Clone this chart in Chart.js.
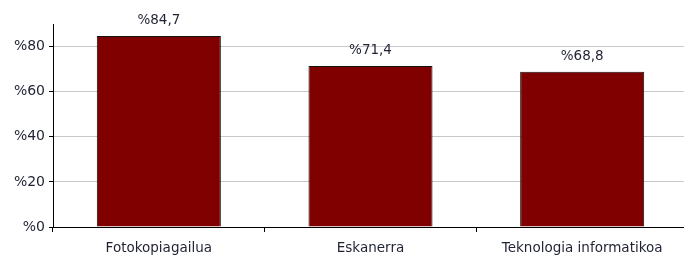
<!DOCTYPE html>
<html>
<head>
<meta charset="utf-8">
<script src="https://cdn.jsdelivr.net/npm/chart.js@4/dist/chart.umd.min.js"></script>
<style>
  html, body { margin: 0; padding: 0; background: #fff; overflow: hidden; }
  #wrap { position: relative; width: 688px; height: 255px; }
</style>
</head>
<body>
<div id="wrap"><canvas id="c"></canvas></div>
<script>
const categories = ["Fotokopiagailua", "Eskanerra", "Teknologia informatikoa"];
const values = [84.7, 71.4, 68.8];
const valueLabels = ["%84,7", "%71,4", "%68,8"];
const yTickValues = [0, 20, 40, 60, 80];

const FONT = "'DejaVu Sans', Verdana, sans-serif";

const valueLabelPlugin = {
  id: 'valueLabels',
  afterDatasetsDraw(chart) {
    const ctx = chart.ctx;
    const meta = chart.getDatasetMeta(0);
    ctx.save();
    ctx.font = "13.5px " + FONT;
    ctx.fillStyle = "#1f2233";
    ctx.textAlign = "center";
    ctx.textBaseline = "middle";
    meta.data.forEach((bar, i) => {
      ctx.fillText(valueLabels[i], bar.x, bar.y - 15);
    });
    ctx.restore();
  }
};

new Chart(document.getElementById('c'), {
  type: 'bar',
  data: {
    labels: categories,
    datasets: [{
      data: values,
      backgroundColor: '#800000',
      borderColor: '#111111',
      borderWidth: 1,
      categoryPercentage: 1,
      barPercentage: 0.586
    }]
  },
  options: {
    responsive: true,
    maintainAspectRatio: false,
    animation: false,
    devicePixelRatio: 1,
    layout: { padding: { top: 24, left: 0, right: 0, bottom: 0 } },
    plugins: { legend: { display: false }, tooltip: { enabled: false } },
    scales: {
      x: {
        offset: true,
        grid: { display: true, drawOnChartArea: false, drawTicks: true, tickLength: 5, color: '#000', offset: true },
        border: { display: true, color: '#000', width: 1 },
        ticks: { font: { family: FONT, size: 13.5 }, color: '#1f2233', padding: 8, maxRotation: 0, autoSkip: false },
        afterFit(scale) { scale.height = 28; }
      },
      y: {
        min: 0,
        max: 90,
        grid: { color: '#c8c8c8', lineWidth: 1, drawTicks: true, tickLength: 4, tickColor: '#000' },
        border: { display: true, color: '#000', width: 1 },
        ticks: {
          stepSize: 20,
          font: { family: FONT, size: 14 },
          color: '#1f2233',
          padding: 4,
          callback: (v) => '%' + v
        },
        afterBuildTicks(scale) {
          scale.ticks = yTickValues.map(v => ({ value: v }));
        },
        afterFit(scale) { scale.width = 53; }
      }
    }
  },
  plugins: [valueLabelPlugin]
});
</script>
</body>
</html>
